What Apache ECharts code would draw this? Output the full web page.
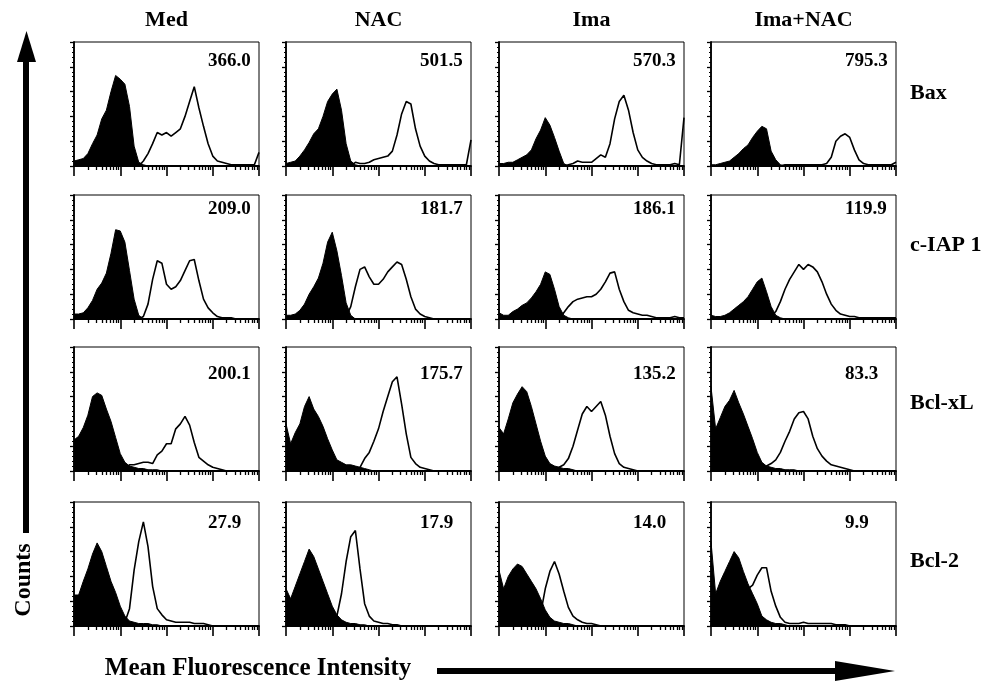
<!DOCTYPE html>
<html><head><meta charset="utf-8">
<script src="https://cdn.jsdelivr.net/npm/echarts@6/dist/echarts.min.js"></script>
<style>html,body{margin:0;padding:0;background:#fff}#c{width:993px;height:686px}</style>
</head><body><div id="c"></div>
<script>
// Fluorescence channels (log scale, 0.1 decade steps from 10^0 to 10^4)
const channels = [1,1.259,1.585,1.995,2.512,3.162,3.981,5.012,6.310,7.943,
  10,12.59,15.85,19.95,25.12,31.62,39.81,50.12,63.10,79.43,
  100,125.9,158.5,199.5,251.2,316.2,398.1,501.2,631.0,794.3,
  1000,1259,1585,1995,2512,3162,3981,5012,6310,7943,10000];
const columns = ['Med','NAC','Ima','Ima+NAC'];
const rowNames = ['Bax','c-IAP 1','Bcl-xL','Bcl-2'];
const mfiLabels = [
  ['366.0','501.5','570.3','795.3'],
  ['209.0','181.7','186.1','119.9'],
  ['200.1','175.7','135.2','83.3'],
  ['27.9','17.9','14.0','9.9']
];
// Filled = control histogram, Open = specific antibody histogram (counts, % of scale)
const baxMedFilled = [4,5,6,10,18,25,38,45,60,73,70,66,48,16,3,1,0,0,0,0,0,0,0,0,0,0,0,0,0,0,0,0,0,0,0,0,0,0,0,0,0];
const baxMedOpen = [0,0,0,0,0,0,0,0,0,0,0,0,0,0,0,4,10,18,27,25,27,24,27,30,40,52,64,47,32,18,8,4,3,2,1,1,1,1,1,1,11];
const baxNacFilled = [2,3,4,8,13,19,26,30,40,52,58,62,45,18,4,1,0,0,0,0,0,0,0,0,0,0,0,0,0,0,0,0,0,0,0,0,0,0,0,0,0];
const baxNacOpen = [0,0,0,0,0,0,0,0,0,0,0,0,0,0,0,3,2,2,3,5,6,7,8,12,25,42,52,50,30,16,8,4,2,1,1,1,1,1,1,1,21];
const baxImaFilled = [2,2,3,3,5,7,9,13,22,29,39,33,23,12,2,0,0,0,0,0,0,0,0,0,0,0,0,0,0,0,0,0,0,0,0,0,0,0,0,0,0];
const baxImaOpen = [0,0,0,0,0,0,0,0,0,0,0,0,0,0,0,1,2,4,3,3,3,6,9,7,18,38,52,57,45,27,13,7,4,2,1,1,1,1,2,1,39];
const baxImaNacFilled = [1,1,2,3,4,7,10,14,17,23,28,32,30,12,5,1,0,0,0,0,0,0,0,0,0,0,0,0,0,0,0,0,0,0,0,0,0,0,0,0,0];
const baxImaNacOpen = [0,0,0,0,0,0,0,0,0,0,0,0,0,0,0,0,1,1,1,1,1,1,1,1,1,2,7,20,24,26,23,13,5,2,1,1,1,1,1,1,3];
const ciapMedFilled = [4,4,5,9,15,24,29,37,53,72,71,62,39,16,3,0,0,0,0,0,0,0,0,0,0,0,0,0,0,0,0,0,0,0,0,0,0,0,0,0,0];
const ciapMedOpen = [0,0,0,0,0,0,0,0,0,0,0,0,0,0,0,2,12,32,47,45,28,24,26,31,39,47,48,31,16,9,5,2,1,1,1,0,0,0,0,0,0];
const ciapNacFilled = [3,3,4,7,12,20,26,33,45,62,70,55,35,13,3,0,0,0,0,0,0,0,0,0,0,0,0,0,0,0,0,0,0,0,0,0,0,0,0,0,0];
const ciapNacOpen = [0,0,0,0,0,0,0,0,0,0,0,0,0,2,10,26,40,42,34,28,28,32,38,42,46,44,32,18,8,4,2,1,0,0,0,0,0,0,0,0,0];
const ciapImaFilled = [5,3,3,6,8,11,13,17,22,28,38,36,24,10,3,1,0,0,0,0,0,0,0,0,0,0,0,0,0,0,0,0,0,0,0,0,0,0,0,0,0];
const ciapImaOpen = [0,0,0,0,0,0,0,0,0,0,0,0,0,0,5,10,14,16,17,18,18,20,24,30,37,38,24,14,7,5,4,3,3,2,1,1,1,1,2,1,1];
const ciapImaNacFilled = [3,2,2,3,5,8,11,14,18,24,30,33,22,10,3,1,0,0,0,0,0,0,0,0,0,0,0,0,0,0,0,0,0,0,0,0,0,0,0,0,0];
const ciapImaNacOpen = [0,0,0,0,0,0,0,0,0,0,0,0,0,2,6,14,24,32,38,44,40,44,42,38,30,20,12,7,4,3,2,2,1,1,1,1,1,1,1,1,1];
const bclxlMedFilled = [25,28,35,45,60,63,61,50,40,27,14,7,4,3,2,2,1,1,1,0,0,0,0,0,0,0,0,0,0,0,0,0,0,0,0,0,0,0,0,0,0];
const bclxlMedOpen = [0,0,0,0,0,0,0,0,0,0,0,0,5,5,6,7,7,6,13,16,22,22,34,38,44,37,23,11,8,5,3,2,1,0,0,0,0,0,0,0,0];
const bclxlNacFilled = [38,22,31,38,52,60,50,44,36,26,17,9,7,5,5,4,3,2,1,0,0,0,0,0,0,0,0,0,0,0,0,0,0,0,0,0,0,0,0,0,0];
const bclxlNacOpen = [0,0,0,0,0,0,0,0,0,0,0,0,0,0,0,0,3,10,15,24,34,48,60,72,76,54,30,11,6,3,2,1,0,0,0,0,0,0,0,0,0];
const bclxlImaFilled = [35,30,42,55,62,68,64,52,38,24,12,6,4,3,2,2,1,0,0,0,0,0,0,0,0,0,0,0,0,0,0,0,0,0,0,0,0,0,0,0,0];
const bclxlImaOpen = [0,0,0,0,0,0,0,0,0,0,0,0,2,3,5,10,20,33,46,52,48,52,56,45,28,14,6,3,2,1,0,0,0,0,0,0,0,0,0,0,0];
const bclxlImaNacFilled = [68,34,43,52,57,65,55,46,36,26,15,7,4,3,2,2,1,1,1,0,0,0,0,0,0,0,0,0,0,0,0,0,0,0,0,0,0,0,0,0,0];
const bclxlImaNacOpen = [0,0,0,0,0,0,0,0,0,0,0,0,4,6,9,15,24,32,42,47,48,42,28,18,12,8,5,4,3,2,1,0,0,0,0,0,0,0,0,0,0];
const bcl2MedFilled = [25,25,36,46,58,67,60,48,36,27,16,8,4,3,2,2,2,1,1,0,0,0,0,0,0,0,0,0,0,0,0,0,0,0,0,0,0,0,0,0,0];
const bcl2MedOpen = [0,0,0,0,0,0,0,0,0,0,0,3,14,45,68,84,64,32,14,9,5,4,3,3,3,3,2,2,2,1,0,0,0,0,0,0,0,0,0,0,0];
const bcl2NacFilled = [30,22,32,42,52,62,56,46,36,26,16,9,5,3,2,2,1,1,0,0,0,0,0,0,0,0,0,0,0,0,0,0,0,0,0,0,0,0,0,0,0];
const bcl2NacOpen = [0,0,0,0,0,0,0,0,0,0,2,8,26,52,72,77,46,18,8,4,3,2,2,1,1,0,0,0,0,0,0,0,0,0,0,0,0,0,0,0,0];
const bcl2ImaFilled = [45,30,40,46,50,48,42,36,30,22,13,7,4,3,2,2,1,0,0,0,0,0,0,0,0,0,0,0,0,0,0,0,0,0,0,0,0,0,0,0,0];
const bcl2ImaOpen = [0,0,0,0,0,0,0,0,2,10,30,44,52,42,28,15,8,5,3,2,2,1,0,0,0,0,0,0,0,0,0,0,0,0,0,0,0,0,0,0,0];
const bcl2ImaNacFilled = [68,26,36,44,52,60,55,44,34,26,18,8,5,3,2,2,1,0,0,0,0,0,0,0,0,0,0,0,0,0,0,0,0,0,0,0,0,0,0,0,0];
const bcl2ImaNacOpen = [0,0,0,0,0,0,0,0,30,33,41,47,47,28,16,7,3,2,2,2,3,2,2,2,2,2,2,1,1,1,0,0,0,0,0,0,0,0,0,0,0];

const panels = [
  [[baxMedFilled,baxMedOpen],[baxNacFilled,baxNacOpen],[baxImaFilled,baxImaOpen],[baxImaNacFilled,baxImaNacOpen]],
  [[ciapMedFilled,ciapMedOpen],[ciapNacFilled,ciapNacOpen],[ciapImaFilled,ciapImaOpen],[ciapImaNacFilled,ciapImaNacOpen]],
  [[bclxlMedFilled,bclxlMedOpen],[bclxlNacFilled,bclxlNacOpen],[bclxlImaFilled,bclxlImaOpen],[bclxlImaNacFilled,bclxlImaNacOpen]],
  [[bcl2MedFilled,bcl2MedOpen],[bcl2NacFilled,bcl2NacOpen],[bcl2ImaFilled,bcl2ImaOpen],[bcl2ImaNacFilled,bcl2ImaNacOpen]]
];

// Layout
const gridLefts = [74, 286, 499, 711];
const gridTops = [42, 195, 347, 502];
const gridW = 185, gridH = 124;
const labelY = [61, 209, 374, 523];
const rowLabelY = [93, 245, 403, 561];
const FONT = '"Liberation Serif","Times New Roman",serif';

const grids = [], xAxes = [], yAxes = [], series = [], graphics = [];
let idx = 0;
for (let r = 0; r < 4; r++) {
  for (let c = 0; c < 4; c++) {
    grids.push({left: gridLefts[c], top: gridTops[r], width: gridW, height: gridH,
      show: true, borderColor: '#000', borderWidth: 1, backgroundColor: 'transparent'});
    xAxes.push({type: 'log', logBase: 10, min: 1, max: 10000, gridIndex: idx,
      axisLine: {show: true, onZero: false, lineStyle: {color: '#000', width: 1.8}},
      axisTick: {show: true, length: 10, lineStyle: {color: '#000', width: 1.6}},
      minorTick: {show: true, splitNumber: 9, length: 4, lineStyle: {color: '#000', width: 1.3}},
      axisLabel: {show: false}, splitLine: {show: false}, minorSplitLine: {show: false}});
    yAxes.push({type: 'value', min: 0, max: 100, interval: 20, gridIndex: idx,
      axisLine: {show: true, lineStyle: {color: '#000', width: 1.8}},
      axisTick: {show: true, length: 4, lineStyle: {color: '#000', width: 1.3}},
      minorTick: {show: true, splitNumber: 5, length: 2, lineStyle: {color: '#000', width: 1.1}},
      axisLabel: {show: false}, splitLine: {show: false}, minorSplitLine: {show: false}});
    const [filled, open] = panels[r][c];
    series.push({type: 'line', xAxisIndex: idx, yAxisIndex: idx, symbol: 'none', silent: true,
      data: channels.map((x, k) => [x, filled[k]]),
      lineStyle: {color: '#000', width: 1}, areaStyle: {color: '#000', opacity: 1}});
    series.push({type: 'line', xAxisIndex: idx, yAxisIndex: idx, symbol: 'none', silent: true,
      data: channels.map((x, k) => [x, open[k]]),
      lineStyle: {color: '#000', width: 1.6}});
    graphics.push({type: 'text', x: gridLefts[c] + 134, y: labelY[r],
      style: {text: mfiLabels[r][c], font: 'bold 19px ' + FONT, fill: '#000',
        textAlign: 'left', textVerticalAlign: 'middle'}});
    idx++;
  }
}
columns.forEach((t, c) => graphics.push({type: 'text', x: gridLefts[c] + gridW / 2, y: 20,
  style: {text: t, font: 'bold 22px ' + FONT, fill: '#000', textAlign: 'center', textVerticalAlign: 'middle'}}));
rowNames.forEach((t, r) => graphics.push({type: 'text', x: 910, y: rowLabelY[r],
  style: {text: t, font: 'bold 22px ' + FONT, fill: '#000', textAlign: 'left', textVerticalAlign: 'middle'}}));
// Axis arrows and titles
graphics.push({type: 'rect', shape: {x: 23, y: 60, width: 6, height: 473}, style: {fill: '#000'}});
graphics.push({type: 'polygon', shape: {points: [[17, 62], [36, 62], [26.5, 31]]}, style: {fill: '#000'}});
graphics.push({type: 'text', x: 24, y: 580, rotation: Math.PI / 2,
  style: {text: 'Counts', font: 'bold 24px ' + FONT, fill: '#000', textAlign: 'center', textVerticalAlign: 'middle'}});
graphics.push({type: 'text', x: 258, y: 669,
  style: {text: 'Mean Fluorescence Intensity', font: 'bold 25px ' + FONT, fill: '#000', textAlign: 'center', textVerticalAlign: 'middle'}});
graphics.push({type: 'rect', shape: {x: 437, y: 668, width: 400, height: 6}, style: {fill: '#000'}});
graphics.push({type: 'polygon', shape: {points: [[835, 661], [835, 681], [895, 671]]}, style: {fill: '#000'}});

const chart = echarts.init(document.getElementById('c'), null, {renderer: 'canvas'});
chart.setOption({animation: false, backgroundColor: '#fff',
  grid: grids, xAxis: xAxes, yAxis: yAxes, series: series, graphic: graphics});
</script></body></html>
